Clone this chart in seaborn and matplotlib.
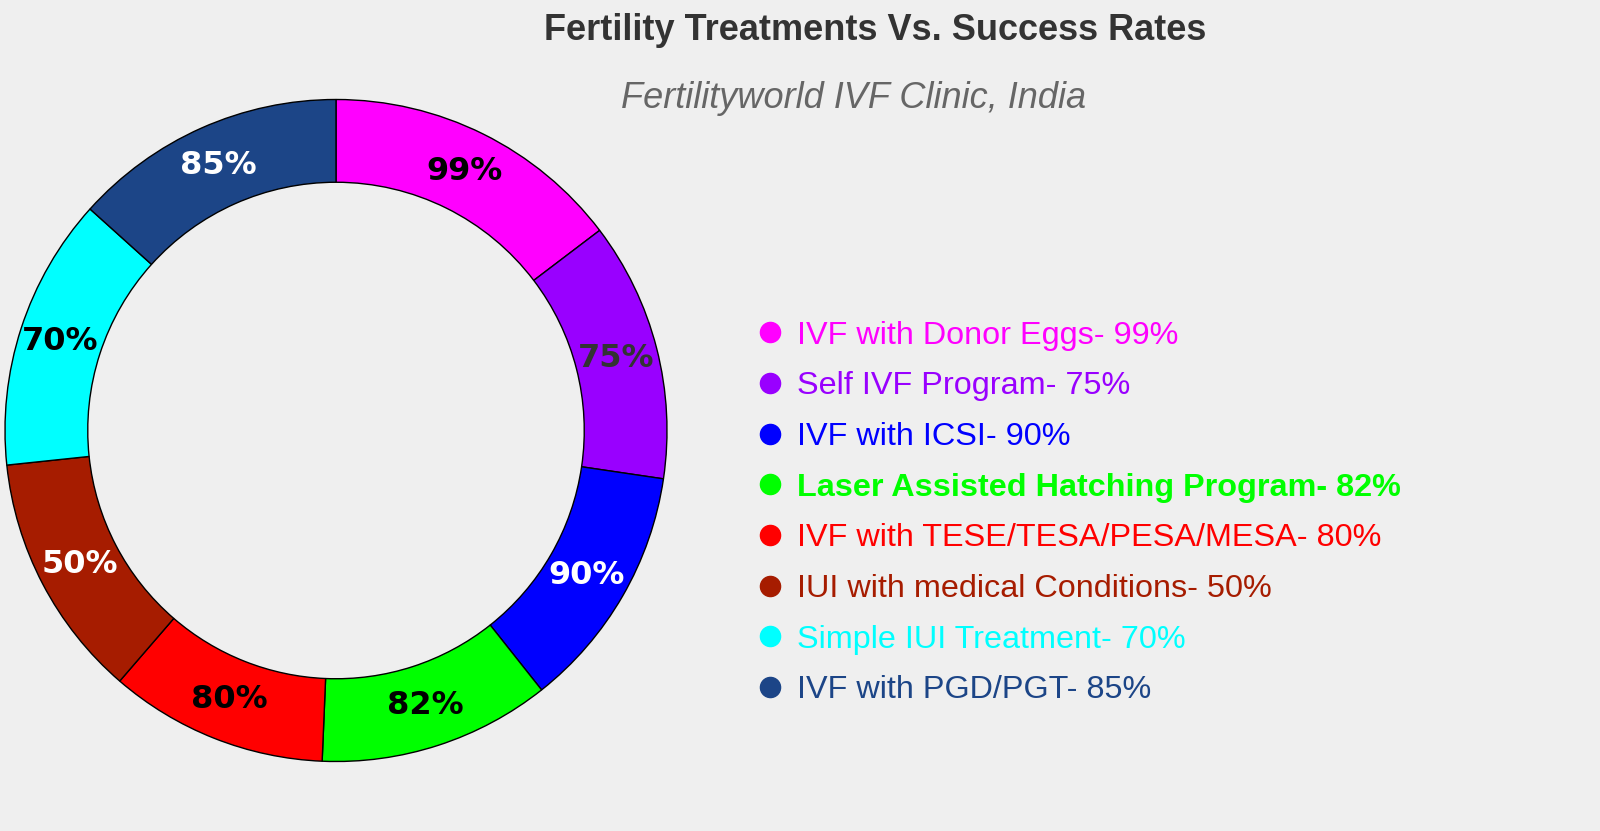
import matplotlib
matplotlib.use('Agg')
import matplotlib.pyplot as plt
from matplotlib.lines import Line2D
import seaborn as sns

# data
treatments = ['IVF with Donor Eggs', 'Self IVF Program', 'IVF with ICSI',
              'Laser Assisted Hatching Program', 'IVF with TESE/TESA/PESA/MESA',
              'IUI with medical Conditions', 'Simple IUI Treatment', 'IVF with PGD/PGT']
success_rate = [99, 75, 90, 82, 80, 50, 70, 85]
# the slice sizes in the picture are not proportional to the rates
slice_share = [11, 9.5, 9, 8.5, 8, 9, 10, 10]
slice_colors = ['#ff00ff', '#9900ff', '#0000ff', '#00ff00',
                '#ff0000', '#a61c00', '#00ffff', '#1c4587']
label_colors = ['black', '#333333', 'white', 'black', 'black', 'white', 'black', 'white']

bg = '#efefef'
sns.set_theme(style='white', rc={'figure.facecolor': bg, 'axes.facecolor': bg,
                                 'savefig.facecolor': bg})
plt.rcParams['font.family'] = ['Liberation Sans', 'DejaVu Sans']
palette = sns.color_palette(slice_colors)

W, H = 1600, 831
fig = plt.figure(figsize=(16, 8.31), dpi=100)

# donut: centre (336, 431) px, outer radius 331 px
cx, cy, r = 336, 430.5, 331
ax = fig.add_axes([(cx - r) / W, (H - cy - r) / H, 2 * r / W, 2 * r / H])

wedges, texts = ax.pie(slice_share, colors=palette, radius=1,
                       labels=[f'{v}%' for v in success_rate], labeldistance=0.875,
                       startangle=90, counterclock=False,
                       wedgeprops=dict(width=0.25, edgecolor='black', linewidth=1))
ax.set_xlim(-1, 1)
ax.set_ylim(-1, 1)
ax.set_aspect('equal')
ax.axis('off')
for t, c in zip(texts, label_colors):
    t.set_ha('center')
    t.set_va('center')
    t.set_color(c)
    t.set_fontsize(23)
    t.set_fontweight('heavy')
    t.set_fontfamily('DejaVu Sans')

# titles
fig.text(875 / W, 1 - 31 / H, 'Fertility Treatments Vs. Success Rates',
         ha='center', va='center', fontsize=26, fontweight='bold', color='#333333')
fig.text(854 / W, 1 - 99 / H, 'Fertilityworld IVF Clinic, India',
         ha='center', va='center', fontsize=26, style='italic', color='#666666')

# legend
handles = [Line2D([], [], marker='o', linestyle='none', markersize=14.5,
                  markerfacecolor=c, markeredgecolor=c) for c in palette]
leg = fig.legend(handles, [f'{n}- {v}%' for n, v in zip(treatments, success_rate)],
                 loc='center left', bbox_to_anchor=(760 / W, 1 - 513 / H),
                 frameon=False, prop={'size': 23.3}, handlelength=0.6,
                 handletextpad=0.55, labelspacing=0.64, borderpad=0, borderaxespad=0)
for t, c, n in zip(leg.get_texts(), slice_colors, treatments):
    t.set_color(c)
    if n.startswith('Laser'):
        t.set_fontweight('bold')

plt.savefig('out.png', dpi=100)
